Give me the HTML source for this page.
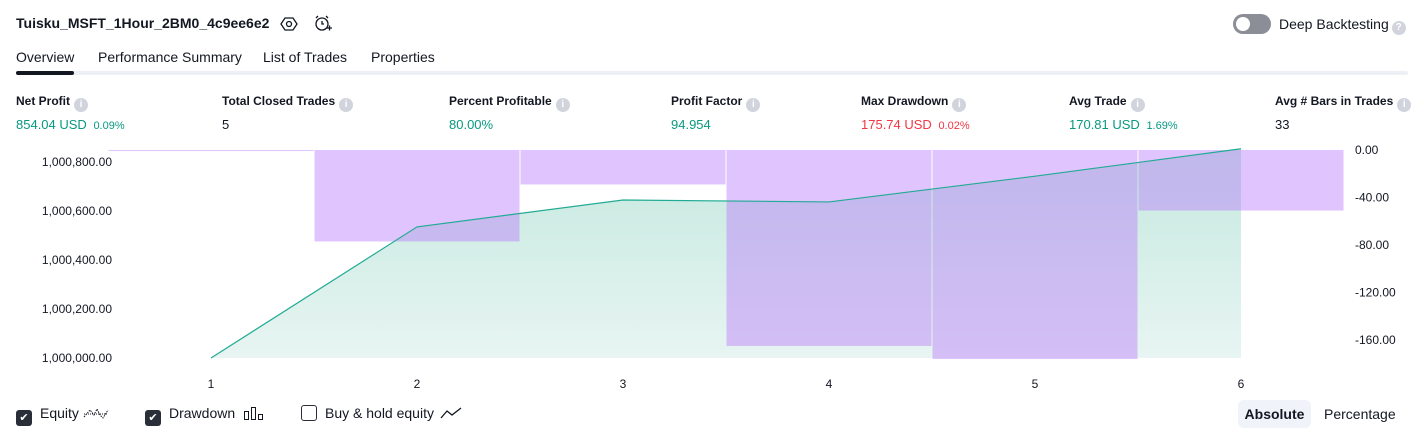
<!DOCTYPE html>
<html><head><meta charset="utf-8"><style>
body{margin:0;width:1424px;height:438px;background:#fff;font-family:"Liberation Sans",sans-serif;color:#131722;position:relative;overflow:hidden}
.a{position:absolute;white-space:nowrap}
.info{display:inline-block;width:14px;height:14px;border-radius:50%;background:#d1d4dc;color:#fff;font-size:10px;text-align:center;line-height:14px;font-weight:bold;vertical-align:-2px;margin-left:4px}
.lbl{font-size:12px;font-weight:bold;color:#131722}
.val{font-size:13px}
.g{color:#089981}.r{color:#f23645}
.cb{display:inline-block;width:16px;height:16px;border-radius:3px;vertical-align:-3px;margin-right:8px;box-sizing:border-box}
</style></head><body>
<div class="a" style="left:16px;top:15px;font-size:14px;font-weight:bold">Tuisku_MSFT_1Hour_2BM0_4c9ee6e2</div>
<svg class="a" style="left:280px;top:15px" width="18" height="18" viewBox="0 0 18 18"><polygon points="5,3 13,3 17,9 13,15 5,15 1,9" fill="none" stroke="#131722" stroke-width="1.3"/><circle cx="9" cy="9" r="2.5" fill="none" stroke="#131722" stroke-width="1.3"/></svg>
<svg class="a" style="left:313px;top:14px" width="20" height="20" viewBox="0 0 20 20"><circle cx="9" cy="10" r="6" fill="none" stroke="#131722" stroke-width="1.3"/><path d="M9 7v3h2M3 4l2-2M15 4l-2-2M14 14h5M16.5 11.5v5" stroke="#131722" stroke-width="1.3" fill="none"/></svg>
<div class="a" style="left:1233px;top:14px;width:38px;height:20px;border-radius:10px;background:#8c8e97"><div style="position:absolute;left:3px;top:3px;width:14px;height:14px;border-radius:50%;background:#fff"></div></div>
<div class="a" style="left:1279px;top:16px;font-size:14px">Deep Backtesting<span class="info" style="margin-left:3px;vertical-align:-1px">?</span></div>
<div class="a" style="left:16px;top:71px;width:1392px;height:4px;background:#eef0f6;border-radius:2px"></div>
<div class="a" style="left:16px;top:71px;width:58px;height:4px;background:#131722;border-radius:2px"></div>
<div class="a" style="left:16px;top:49px;font-size:14px">Overview</div>
<div class="a" style="left:98px;top:49px;font-size:14px">Performance Summary</div>
<div class="a" style="left:263px;top:49px;font-size:14px">List of Trades</div>
<div class="a" style="left:371px;top:49px;font-size:14px">Properties</div>

<div class="a" style="left:16px;top:94px"><div class="lbl">Net Profit<span class="info">i</span></div><div class="val g" style="margin-top:5px">854.04 USD <span style="font-size:11px;margin-left:3px">0.09%</span></div></div>
<div class="a" style="left:222px;top:94px"><div class="lbl">Total Closed Trades<span class="info">i</span></div><div class="val" style="margin-top:5px">5</div></div>
<div class="a" style="left:449px;top:94px"><div class="lbl">Percent Profitable<span class="info">i</span></div><div class="val g" style="margin-top:5px">80.00%</div></div>
<div class="a" style="left:671px;top:94px"><div class="lbl">Profit Factor<span class="info">i</span></div><div class="val g" style="margin-top:5px">94.954</div></div>
<div class="a" style="left:861px;top:94px"><div class="lbl">Max Drawdown<span class="info">i</span></div><div class="val r" style="margin-top:5px">175.74 USD <span style="font-size:11px;margin-left:3px">0.02%</span></div></div>
<div class="a" style="left:1069px;top:94px"><div class="lbl">Avg Trade<span class="info">i</span></div><div class="val g" style="margin-top:5px">170.81 USD <span style="font-size:11px;margin-left:3px">1.69%</span></div></div>
<div class="a" style="left:1275px;top:94px"><div class="lbl">Avg # Bars in Trades<span class="info">i</span></div><div class="val" style="margin-top:5px">33</div></div>

<svg class="a" id="chart" style="left:0;top:140px" width="1424" height="250"></svg>

<div class="a" style="left:16px;top:405px;font-size:14px"><span class="cb" style="background:#2a2e39;color:#fff;font-size:11px;text-align:center;line-height:16px">✔</span>Equity <svg width="26" height="14" style="vertical-align:-2px"><path d="M1 11L7 4L11 9L14 3L17 9L20 12L25 4" fill="none" stroke="#131722" stroke-dasharray="1.5 1"/><line x1="1" y1="8" x2="25" y2="8" stroke="#131722" stroke-dasharray="1 1"/></svg></div>
<div class="a" style="left:145px;top:405px;font-size:14px"><span class="cb" style="background:#2a2e39;color:#fff;font-size:11px;text-align:center;line-height:16px">✔</span>Drawdown <svg width="22" height="14" style="vertical-align:-2px;margin-left:4px"><rect x="1.5" y="5.5" width="4" height="8" fill="none" stroke="#131722"/><rect x="8.5" y="1.5" width="4" height="12" fill="none" stroke="#131722"/><rect x="15.5" y="8.5" width="4" height="5" fill="none" stroke="#131722"/></svg></div>
<div class="a" style="left:301px;top:405px;font-size:14px"><span class="cb" style="border:1px solid #2a2e39"></span>Buy &amp; hold equity <svg width="22" height="14" style="vertical-align:-2px;margin-left:2px"><path d="M1 12L7 5L12 9L21 2" fill="none" stroke="#131722" stroke-width="1.3"/></svg></div>
<div class="a" style="left:1238px;top:400px;width:73px;height:28px;border-radius:6px;background:#f0f3fa;font-size:14px;font-weight:bold;text-align:center;line-height:28px">Absolute</div>
<div class="a" style="left:1324px;top:406px;font-size:14px">Percentage</div>

<script>
const categories=[1,2,3,4,5,6];
const equity=[1000000,1000535,1000645,1000637,1000742,1000854];
const drawdown=[0,-77,-29,-165,-176,-51];
const equityTicks=[1000000,1000200,1000400,1000600,1000800];
const ddTicks=[0,-40,-80,-120,-160];
const svg=document.getElementById('chart');
const NS='http://www.w3.org/2000/svg';
const x=i=>211+(i-1)*206;
const yE=v=>218-(v-1000000)*0.245;
const yD=v=>10-v*1.1875;
function mk(t,a,p){const e=document.createElementNS(NS,t);for(const k in a)e.setAttribute(k,a[k]);(p||svg).appendChild(e);return e;}
const defs=mk('defs',{});
const lg=mk('linearGradient',{id:'gf',x1:0,y1:0,x2:0,y2:1},defs);
mk('stop',{offset:0,'stop-color':'#c4e8df'},lg);mk('stop',{offset:1,'stop-color':'#e8f5f2'},lg);
let pts=categories.map((c,i)=>x(c)+','+yE(equity[i])).join(' ');
const area=mk('polygon',{points:x(categories[0])+','+yE(1000000)+' '+pts+' '+x(categories[categories.length-1])+','+yE(1000000),fill:'url(#gf)'});


categories.forEach((c,i)=>{
  const y0=yD(0),y1=yD(drawdown[i]);
  const r=mk('rect',{x:x(c)-103+0.5,y:y0,width:205,height:Math.max(1,y1-y0),fill:'rgba(186,124,250,0.45)'});
  
  
});
const line=mk('polyline',{points:pts,fill:'none',stroke:'#22ab94','stroke-width':1.2});


equityTicks.forEach(v=>{
  const t=mk('text',{x:112,y:yE(v)+4,'text-anchor':'end','font-size':12,fill:'#131722'});
  t.textContent=v.toLocaleString('en-US',{minimumFractionDigits:2});
  
  
});
ddTicks.forEach(v=>{
  const t=mk('text',{x:1355,y:yD(v)+4,'font-size':12,fill:'#131722'});
  t.textContent=v.toFixed(2);
  
  
});
categories.forEach(c=>{
  const t=mk('text',{x:x(c),y:248,'text-anchor':'middle','font-size':12,fill:'#131722'});
  t.textContent=c;
  
  
});
</script>
</body></html>
